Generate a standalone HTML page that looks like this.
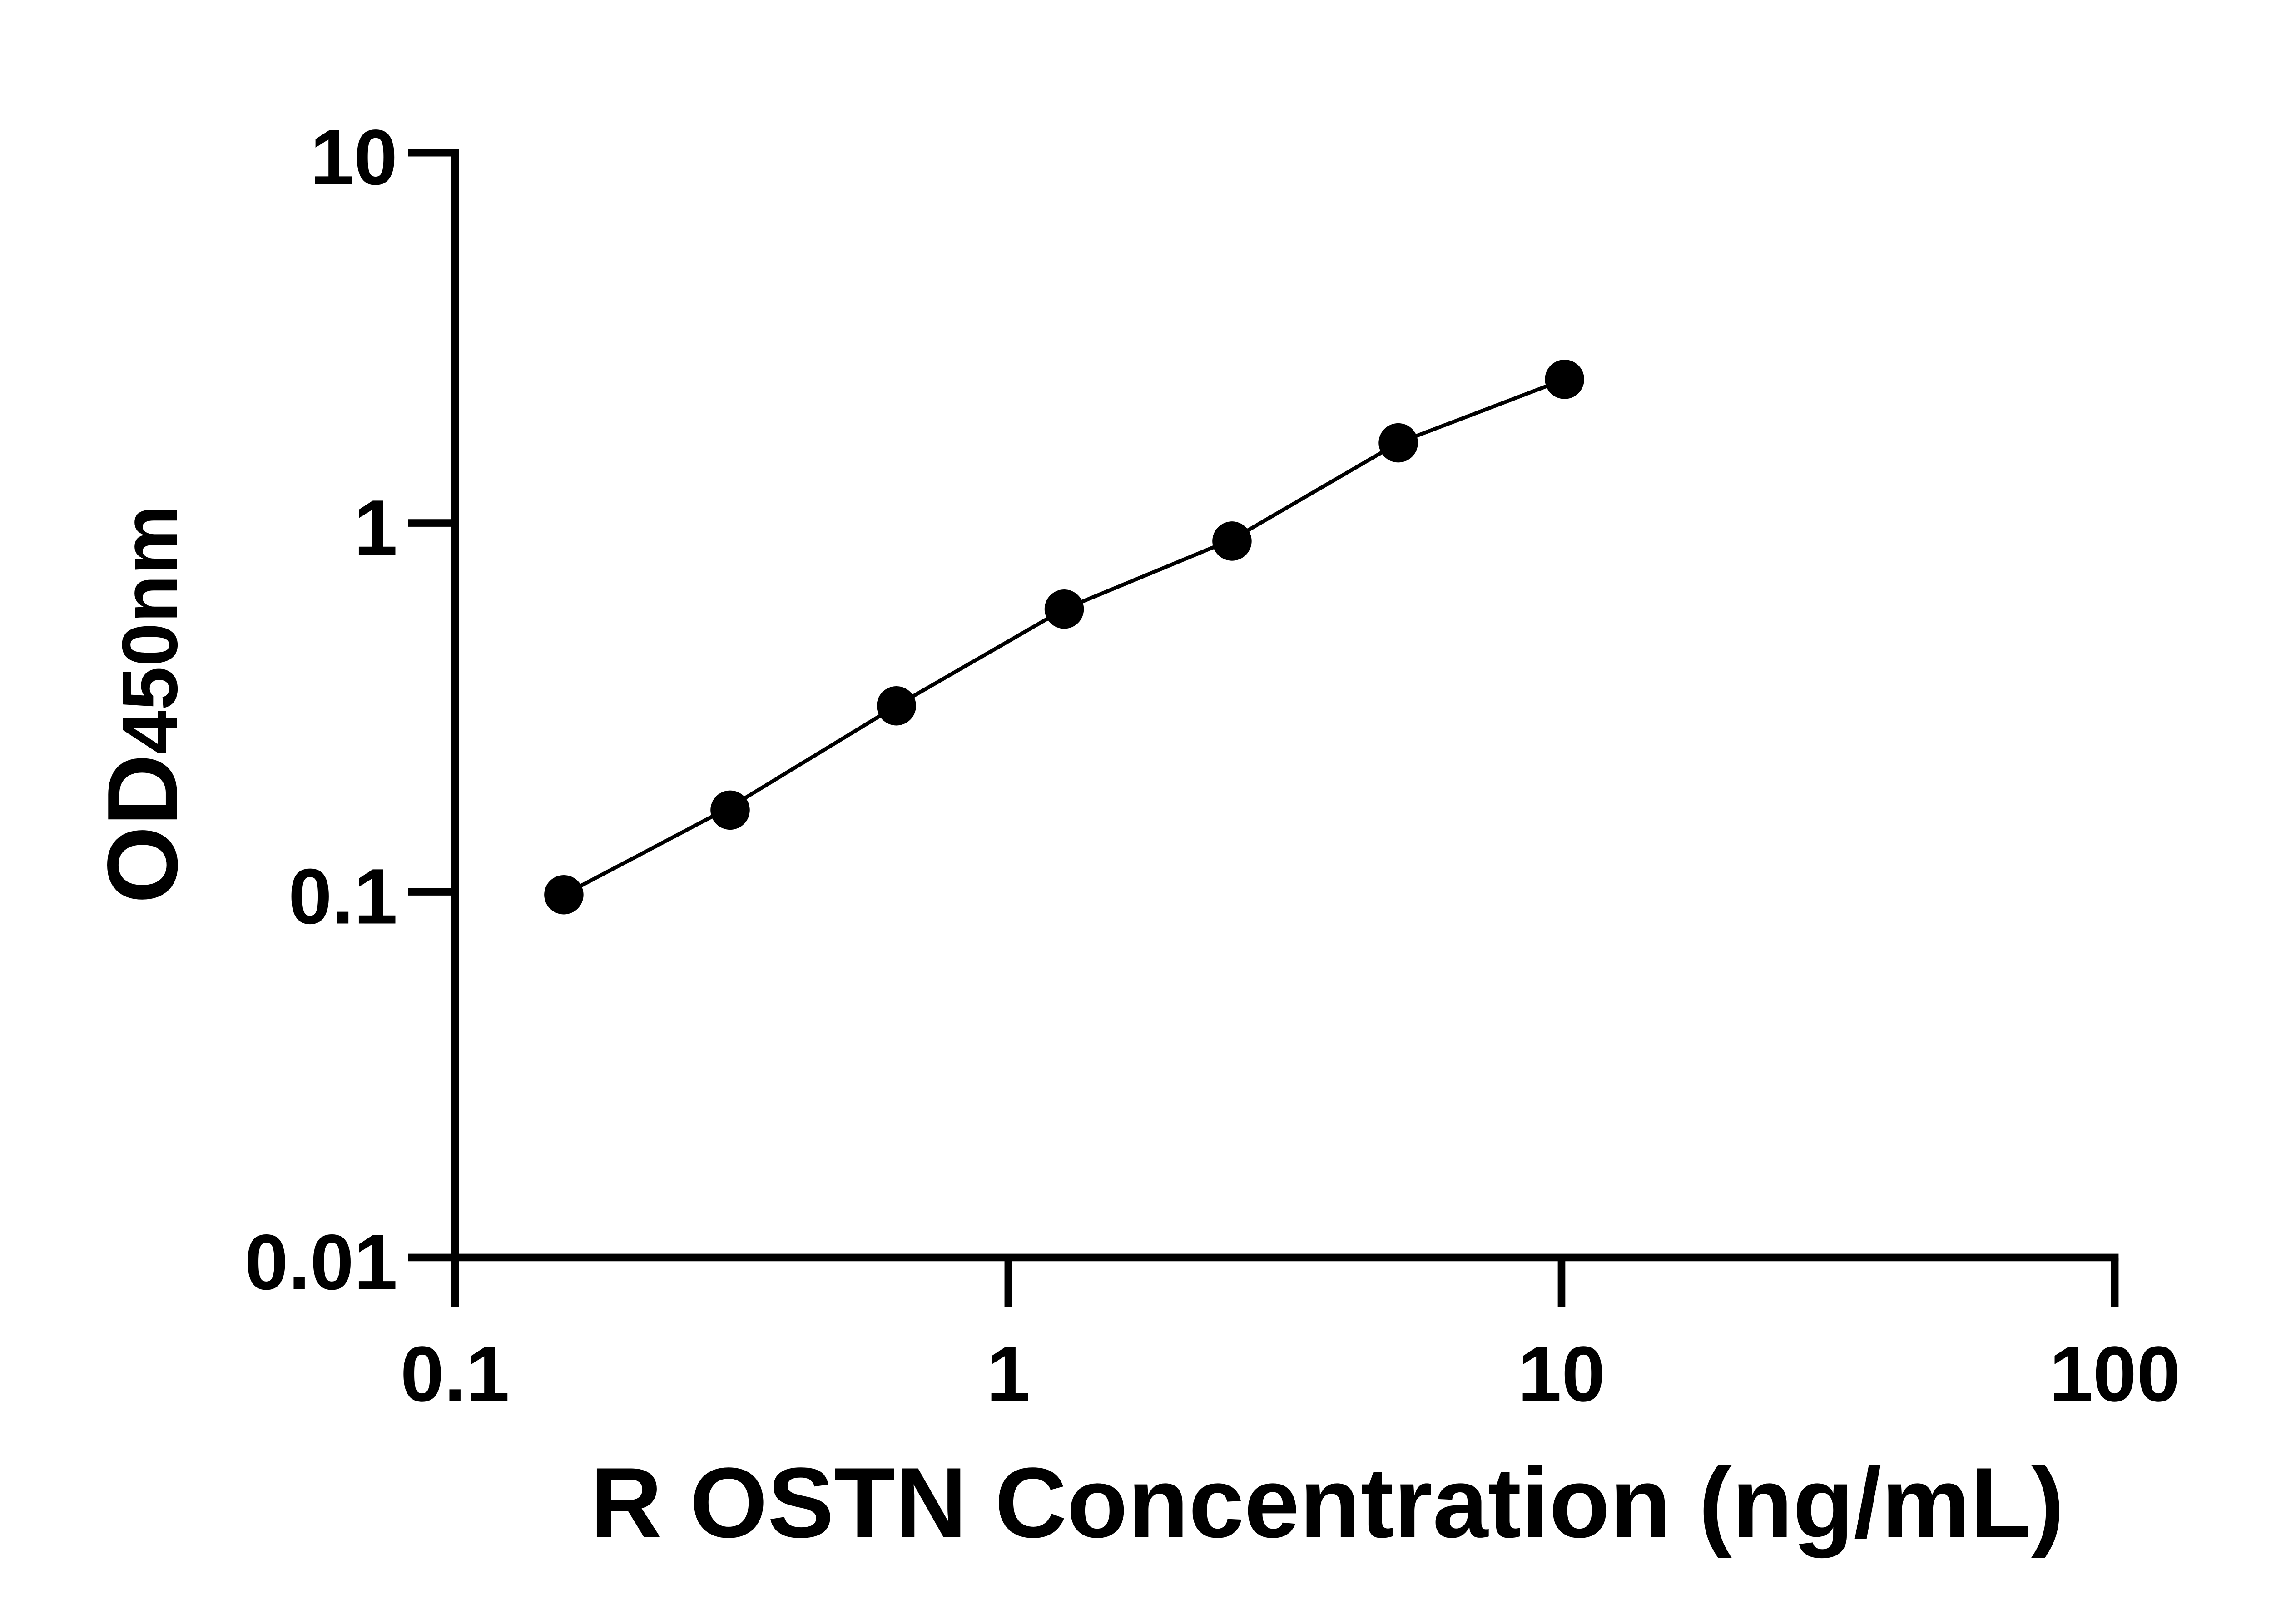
<!DOCTYPE html>
<html><head><meta charset="utf-8"><style>
html,body{margin:0;padding:0;background:#fff;}
svg{display:block;}
text{font-family:"Liberation Sans",sans-serif;font-weight:bold;fill:#000;}
</style></head><body>
<svg width="5142" height="3576" viewBox="0 0 1545 1074.5" preserveAspectRatio="none" xmlns="http://www.w3.org/2000/svg">
<rect width="1545" height="1074.5" fill="#fff"/>
<g stroke="#000" stroke-width="5" fill="none" stroke-linecap="butt">
<line x1="301" y1="98.5" x2="301" y2="865"/>
<line x1="298.5" y1="832" x2="1401.5" y2="832"/>
<line x1="270" y1="101" x2="301" y2="101"/>
<line x1="270" y1="346" x2="301" y2="346"/>
<line x1="270" y1="590" x2="301" y2="590"/>
<line x1="270" y1="832" x2="301" y2="832"/>
<line x1="667" y1="832" x2="667" y2="865"/>
<line x1="1033" y1="832" x2="1033" y2="865"/>
<line x1="1399" y1="832" x2="1399" y2="865"/>
</g>
<path d="M373,592 L483,534 L593,467 L704,403 L815,357 L925,293 L1035,251" stroke="#000" stroke-width="2.5" fill="none"/>
<g fill="#000">
<circle cx="373" cy="592" r="13"/>
<circle cx="483" cy="536" r="13"/>
<circle cx="593" cy="467" r="13"/>
<circle cx="704" cy="403" r="13"/>
<circle cx="815" cy="358" r="13"/>
<circle cx="925" cy="293" r="13"/>
<circle cx="1035" cy="251" r="13"/>
</g>
<g font-size="52" text-anchor="end">
<text x="263" y="122">10</text>
<text x="263" y="367">1</text>
<text x="263" y="611">0.1</text>
<text x="263" y="853">0.01</text>
</g>
<g font-size="52" text-anchor="middle">
<text x="301" y="927">0.1</text>
<text x="667" y="927">1</text>
<text x="1033" y="927">10</text>
<text x="1399" y="927">100</text>
</g>
<text x="878" y="1017" font-size="66" text-anchor="middle">R OSTN Concentration (ng/mL)</text>
<text transform="translate(117,466) rotate(-90)" text-anchor="middle"><tspan font-size="66">OD</tspan><tspan font-size="52">450nm</tspan></text>
</svg>
</body></html>
